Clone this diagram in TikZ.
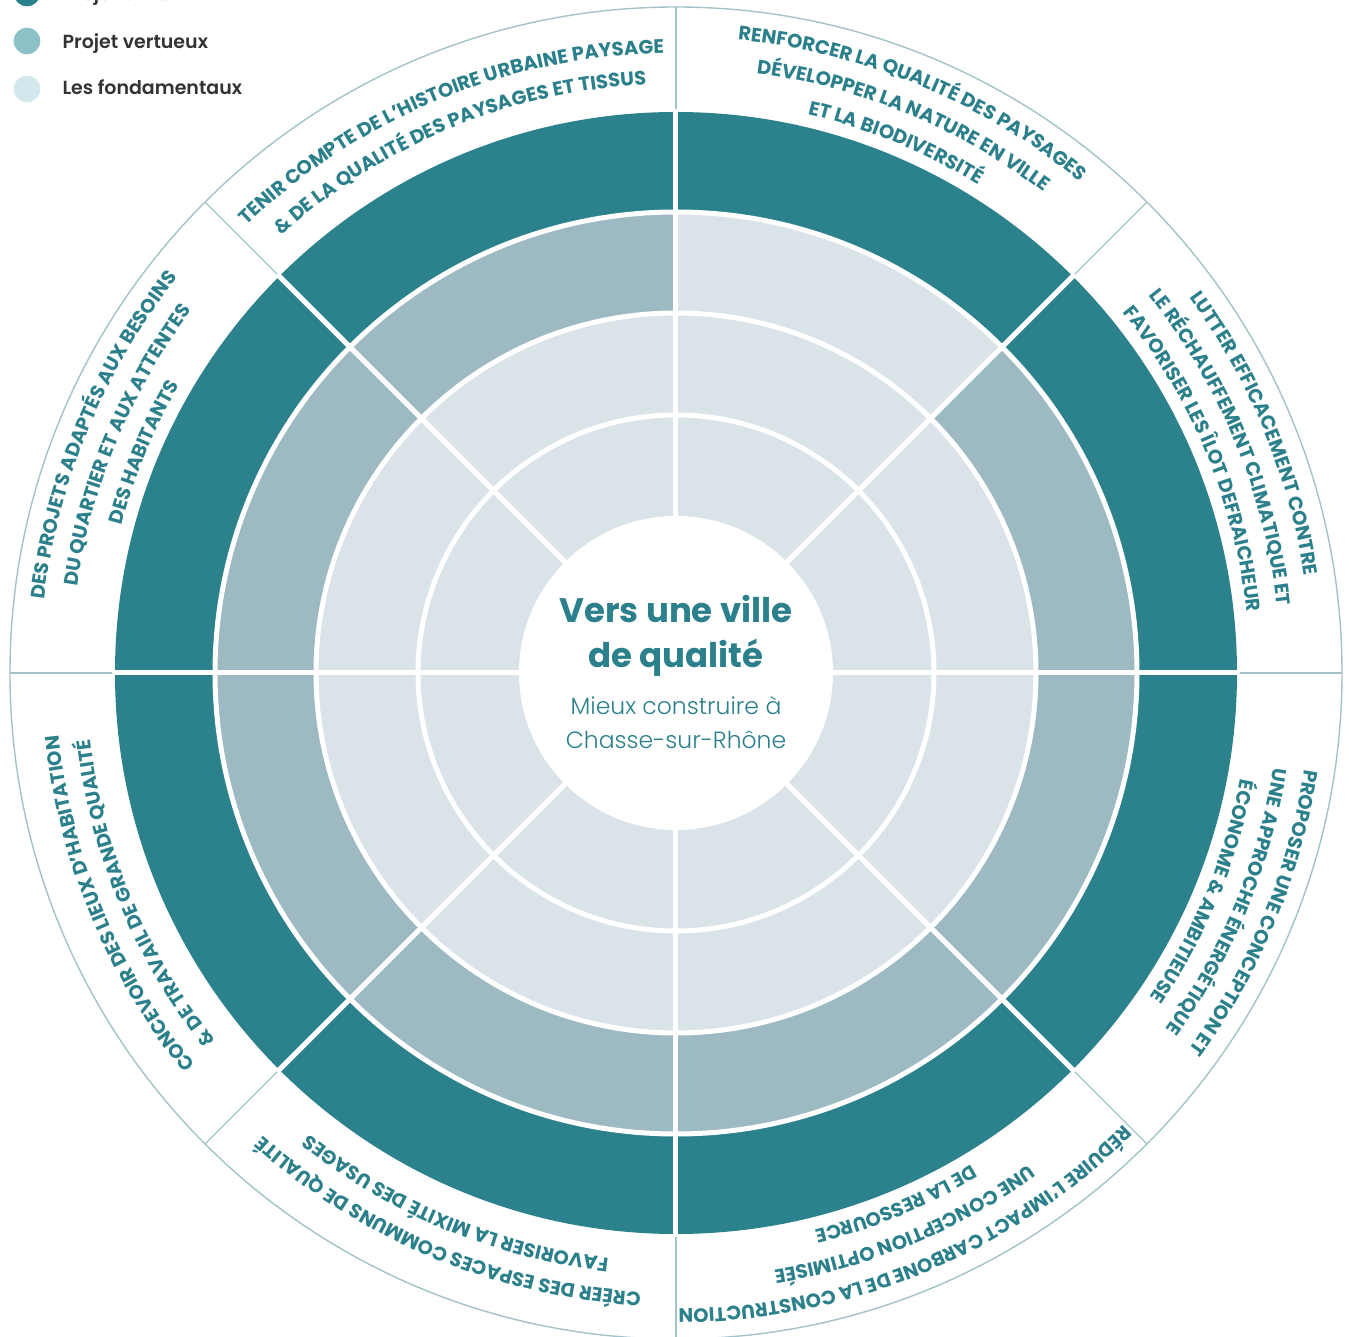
\documentclass[tikz,border=0pt]{standalone}
\usepackage{fontspec}
\setmainfont{Poppins}
\newfontfamily\popsemi{Poppins SemiBold}
\newfontfamily\poplight{Poppins Light}
\usetikzlibrary{decorations.text}
\definecolor{ink}{HTML}{2B808B}
\definecolor{dark}{HTML}{2B818C}
\definecolor{mid}{HTML}{9DB9C1}
\definecolor{pale}{HTML}{DAE3E8}
\definecolor{rimc}{HTML}{A4C3C9}
\definecolor{legmid}{HTML}{8BC1C7}
\definecolor{legpale}{HTML}{D3E8EC}
\definecolor{legtxt}{HTML}{333333}
\newcommand\bandfont{\fontsize{19.5}{20}\selectfont\bfseries}
\tikzset{
  gap/.style={draw=white,line width=5pt},
  rim/.style={draw=rimc,line width=1.4pt},
  dot/.style={circle,minimum size=26.6pt,inner sep=0pt},
  legend/.style={anchor=base west,text=legtxt,font=\popsemi\fontsize{19}{20}\selectfont},
  bandtxt/.style={decorate,decoration={text along path,text align=center,text color=ink,text={|\bandfont|#1}}},
}
% one line of a band label, centred on angle #1, baseline on radius #2
\newcommand\bandline[3]{\path[bandtxt={#3}] (#1+40:#2) arc[start angle=#1+40,end angle=#1-40,radius=#2];}

\begin{document}
\begin{tikzpicture}[x=1pt,y=1pt]
  \useasboundingbox (-676,-664) rectangle (673,673);
  \clip (-676,-664) rectangle (673,673);
  \fill[white] (-676,-664) rectangle (673,673);

  % rings
  \fill[dark] (0,0) circle[radius=561];
  \fill[mid] (0,0) circle[radius=461];
  \fill[pale] (0,0) -- (45:461) arc[start angle=45,end angle=90,radius=461] -- cycle;
  \fill[pale] (0,0) circle[radius=360];
  \foreach \r in {258,360,461} \draw[gap] (0,0) circle[radius=\r];
  \foreach \a in {0,45,...,315} \draw[gap] (0,0) -- (\a:563);
  \fill[white] (0,0) circle[radius=157];

  % outer band
  \draw[rim] (0,0) circle[radius=666];
  \foreach \a in {0,45,...,315} \draw[rim] (\a:564) -- (\a:666);

  % band labels
  \bandline{112.5}{620}{TENIR COMPTE DE L’HISTOIRE URBAINE PAYSAGE}
  \bandline{112.5}{589}{{\&} DE LA QUALITÉ DES PAYSAGES ET TISSUS}
  \bandline{67.5}{636}{RENFORCER LA QUALITÉ DES PAYSAGES}
  \bandline{67.5}{605}{DÉVELOPPER LA NATURE EN VILLE}
  \bandline{67.5}{574}{ET LA BIODIVERSITÉ}
  \bandline{22.5}{636}{LUTTER EFFICACEMENT CONTRE}
  \bandline{22.5}{605}{LE RÉCHAUFFEMENT CLIMATIQUE ET}
  \bandline{22.5}{574}{FAVORISER LES ÎLOT DEFRAICHEUR}
  \bandline{-22.5}{636}{PROPOSER UNE CONCEPTION ET}
  \bandline{-22.5}{605}{UNE APPROCHE ÉNERGÉTIQUE}
  \bandline{-22.5}{574}{ÉCONOME {\&} AMBITIEUSE}
  \bandline{-67.5}{636}{RÉDUIRE L’IMPACT CARBONE DE LA CONSTRUCTION}
  \bandline{-67.5}{605}{UNE CONCEPTION OPTIMISÉE}
  \bandline{-67.5}{574}{DE LA RESSOURCE}
  \bandline{-112.5}{620}{CRÉER DES ESPACES COMMUNS DE QUALITÉ}
  \bandline{-112.5}{589}{FAVORISER LA MIXITÉ DES USAGES}
  \bandline{-157.5}{620}{CONCEVOIR DES LIEUX D’HABITATION}
  \bandline{-157.5}{589}{{\&} DE TRAVAIL DE GRANDE QUALITÉ}
  \bandline{157.5}{636}{DES PROJETS ADAPTÉS AUX BESOINS}
  \bandline{157.5}{605}{DU QUARTIER ET AUX ATTENTES}
  \bandline{157.5}{574}{DES HABITANTS}

  % centre
  \node[text=ink,align=center,font=\bfseries\fontsize{34}{45}\selectfont] (ttl) at (0,37) {Vers une ville\\de qualité};
  \node[text=ink,align=center,font=\poplight\fontsize{23.5}{34}\selectfont] (sub) at (0,-50) {Mieux construire à\\Chasse-sur-Rhône};

  % legend
  \node[dot,fill=dark] (d1) at (-649,680) {};
  \node[dot,fill=legmid] (d2) at (-649,632) {};
  \node[dot,fill=legpale] (d3) at (-649,584) {};
  \node[legend] (l1) at (-617,672) {Projet ambitieux};
  \node[legend] (l2) at (-617,624) {Projet vertueux};
  \node[legend] (l3) at (-617,578) {Les fondamentaux};
\end{tikzpicture}
\end{document}
